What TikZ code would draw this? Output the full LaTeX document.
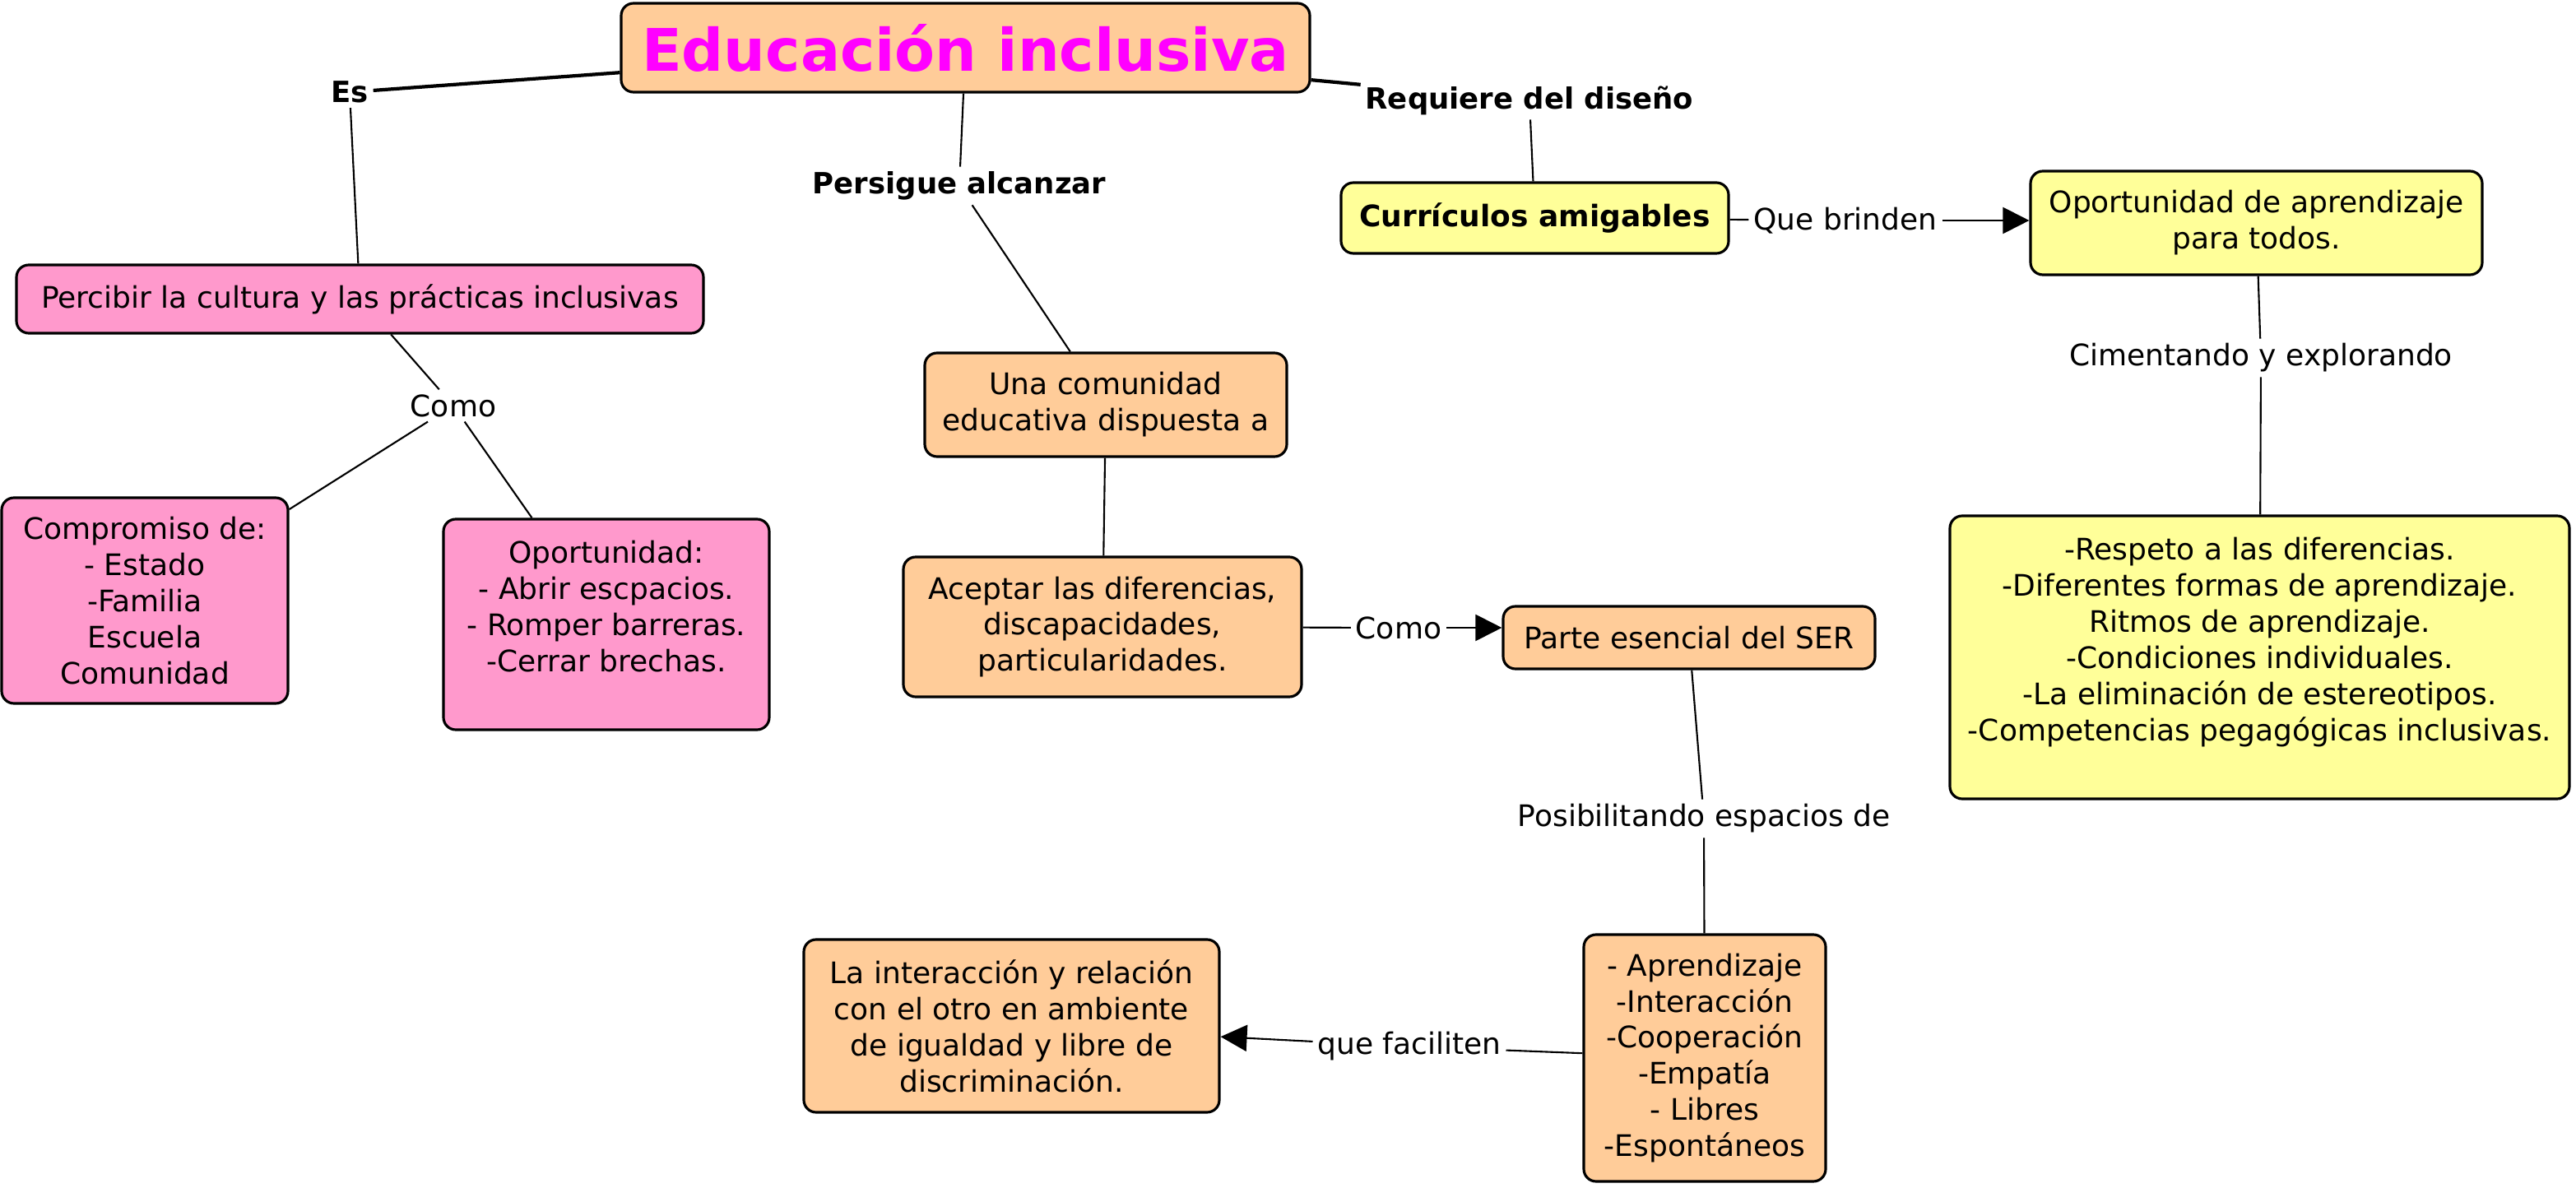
\documentclass[tikz,border=0pt]{standalone}
\usepackage{fontspec}
\setmainfont{DejaVu Sans}
\usetikzlibrary{arrows.meta}

\definecolor{peach}{RGB}{255,204,153}
\definecolor{rosa}{RGB}{255,153,204}
\definecolor{amarillo}{RGB}{255,255,153}
\definecolor{titulo}{RGB}{255,0,255}

\tikzset{
  concept/.style={draw, rectangle, rounded corners=0.15cm, line width=0.9pt,
    align=center, inner sep=2pt, font=\fontsize{10.25}{12.5}\selectfont},
  pinkbox/.style={concept, fill=rosa},
  peachbox/.style={concept, fill=peach},
  yellowbox/.style={concept, fill=amarillo},
  linkword/.style={inner sep=1.5pt, font=\fontsize{10.25}{12}\selectfont},
  boldlink/.style={linkword, font=\fontsize{10.1}{12}\selectfont\bfseries},
  conn/.style={line width=0.6pt},
  thickconn/.style={line width=1.2pt},
  arrowconn/.style={line width=0.6pt, -{Triangle[length=0.32cm, width=0.32cm]}}
}

\begin{document}
\begin{tikzpicture}
  \useasboundingbox (0,0) rectangle (31.31,-14.44);

  % concepts
  \node[peachbox, minimum width=8.37cm, minimum height=1.08cm,
        font=\fontsize{20.3}{24}\selectfont\bfseries, text=titulo] (title) at (11.735,-0.58) {Educación inclusiva};
  \node[pinkbox, minimum width=8.35cm, minimum height=0.83cm] (percibir) at (4.375,-3.635) {Percibir la cultura y las prácticas inclusivas};
  \node[pinkbox, minimum width=3.48cm, minimum height=2.50cm] (compromiso) at (1.76,-7.30) {Compromiso de:\\- Estado\\-Familia\\Escuela\\Comunidad};
  \node[pinkbox, minimum width=3.96cm, minimum height=2.56cm] (oport) at (7.37,-7.59) {Oportunidad:\\- Abrir escpacios.\\- Romper barreras.\\-Cerrar brechas.\\~};
  \node[peachbox, minimum width=4.40cm, minimum height=1.26cm] (comunidad) at (13.44,-4.92) {Una comunidad\\educativa dispuesta a};
  \node[peachbox, minimum width=4.84cm, minimum height=1.70cm] (aceptar) at (13.40,-7.62) {Aceptar las diferencias,\\discapacidades,\\particularidades.};
  \node[peachbox, minimum width=4.52cm, minimum height=0.76cm] (parte) at (20.53,-7.75) {Parte esencial del SER};
  \node[peachbox, minimum width=2.94cm, minimum height=3.00cm] (aprend) at (20.72,-12.86) {- Aprendizaje\\-Interacción\\-Cooperación\\-Empatía\\- Libres\\-Espontáneos};
  \node[peachbox, minimum width=5.05cm, minimum height=2.10cm] (interac) at (12.295,-12.47) {La interacción y relación\\con el otro en ambiente\\de igualdad y libre de\\discriminación.};
  \node[yellowbox, minimum width=4.71cm, minimum height=0.86cm, font=\fontsize{10.25}{12.5}\selectfont\bfseries] (curric) at (18.655,-2.65) {Currículos amigables};
  \node[yellowbox, minimum width=5.49cm, minimum height=1.26cm] (oportap) at (27.425,-2.71) {Oportunidad de aprendizaje\\para todos.};
  \node[yellowbox, minimum width=7.53cm, minimum height=3.44cm] (respeto) at (27.465,-7.99) {-Respeto a las diferencias.\\-Diferentes formas de aprendizaje.\\Ritmos de aprendizaje.\\-Condiciones individuales.\\-La eliminación de estereotipos.\\-Competencias pegagógicas inclusivas.\\~};

  % linking words
  \node[boldlink] (es) at (4.25,-1.12) {Es};
  \node[boldlink] (persigue) at (11.66,-2.26) {Persigue alcanzar};
  \node[boldlink] (requiere) at (18.59,-1.22) {Requiere del diseño};
  \node[linkword] (como1) at (5.51,-4.93) {Como};
  \node[linkword] (como2) at (17.00,-7.63) {Como};
  \node[linkword] (posib) at (20.71,-9.95) {Posibilitando espacios de};
  \node[linkword] (faciliten) at (17.13,-12.72) {que faciliten};
  \node[linkword] (brinden) at (22.43,-2.68) {Que brinden};
  \node[linkword] (cimentando) at (27.48,-4.35) {Cimentando y explorando};

  % connections
  \draw[thickconn] (title) -- (es);
  \draw[conn] (es) -- (percibir);
  \draw[conn] (percibir) -- (como1);
  \draw[conn] (como1) -- (compromiso);
  \draw[conn] (como1) -- (oport);
  \draw[conn] (title) -- (persigue);
  \draw[conn] (persigue) -- (comunidad);
  \draw[conn] (comunidad) -- (aceptar);
  \draw[conn] (aceptar) -- (como2);
  \draw[arrowconn] (como2) -- (como2 -| parte.west);
  \draw[conn] (parte) -- (posib);
  \draw[conn] (posib) -- (aprend);
  \draw[conn] (aprend) -- (faciliten);
  \draw[arrowconn] (faciliten) -- (interac);
  \draw[thickconn] (title) -- (requiere);
  \draw[conn] (requiere) -- (curric);
  \draw[conn] (curric) -- (brinden);
  \draw[arrowconn] (brinden) -- (brinden -| oportap.west);
  \draw[conn] (oportap) -- (cimentando);
  \draw[conn] (cimentando) -- (respeto);
\end{tikzpicture}
\end{document}
